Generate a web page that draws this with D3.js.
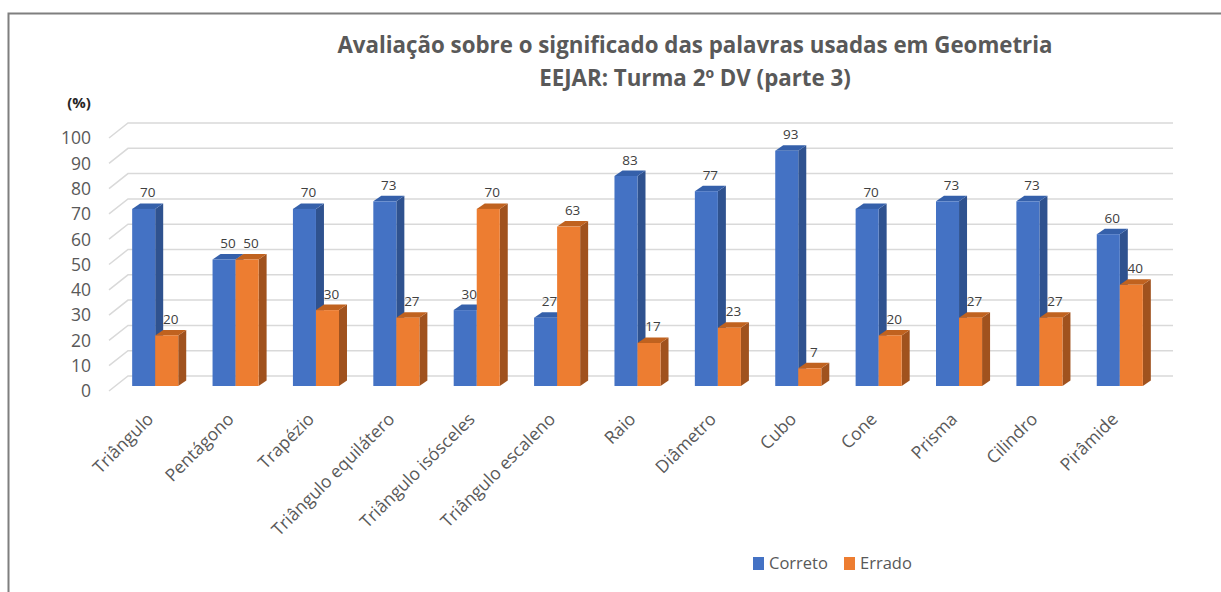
<!DOCTYPE html>
<html>
<head>
<meta charset="utf-8">
<title>Avaliação Geometria</title>
<script src="https://cdn.jsdelivr.net/npm/d3@7"></script>
<style>
  body { margin: 0; background: #fff; }
  svg text { font-family: "Open Sans", sans-serif; }
</style>
</head>
<body>
<svg id="chart" width="1221" height="592"></svg>
<script>
// data
var categories = ["Triângulo", "Pentágono", "Trapézio", "Triângulo equilátero", "Triângulo isósceles",
  "Triângulo escaleno", "Raio", "Diâmetro", "Cubo", "Cone", "Prisma", "Cilindro", "Pirâmide"];
var correto = [70, 50, 70, 73, 30, 27, 83, 77, 93, 70, 73, 73, 60];
var errado  = [20, 50, 30, 27, 70, 63, 17, 23, 7, 20, 27, 27, 40];
var seriesNames = ["Correto", "Errado"];
var yTicks = [0, 10, 20, 30, 40, 50, 60, 70, 80, 90, 100];

var colors = {
  Correto: { front: "#4472C4", side: "#2F528F", top: "#3560AA" },
  Errado:  { front: "#ED7D31", side: "#A0521E", top: "#C0621F" }
};

var svg = d3.select("#chart");

// frame (only top and left edges show)
svg.append("rect")
  .attr("x", 8.5).attr("y", 13.5)
  .attr("width", 1300).attr("height", 700)
  .attr("fill", "none").attr("stroke", "#7f7f7f").attr("stroke-width", 2);

// bar plane
var x0 = d3.scaleBand().domain(categories).range([115, 1160]).paddingInner(0.427).paddingOuter(0.2135);
var x1 = d3.scaleBand().domain(seriesNames).range([0, x0.bandwidth()]);
var y = d3.scaleLinear().domain([0, 100]).range([386, 133]);

// depth offsets
var back = { dx: 13, dy: -10 }, front = { dx: -6, dy: 5 };
var bar = { dx: 8, dy: -5.5 };

// gridlines: back wall + left diagonal
var grid = svg.append("g");
yTicks.forEach(function(t) {
  var yy = y(t);
  grid.append("polyline")
    .attr("points", [[x0.range()[0] + front.dx, yy + front.dy],
                     [x0.range()[0] + back.dx, yy + back.dy],
                     [x0.range()[1] + back.dx, yy + back.dy]].join(" "))
    .attr("fill", "none").attr("stroke", "#d9d9d9").attr("stroke-width", 1.5);
});

// y tick labels
svg.append("g").selectAll("text")
  .data(yTicks).enter().append("text")
  .attr("x", 91)
  .attr("y", function(d) { return y(d) + front.dy; })
  .attr("dy", "0.36em")
  .attr("text-anchor", "end")
  .style("font-size", "17.5px")
  .style("fill", "#595959")
  .text(function(d) { return d; });

// bars
var rows = categories.map(function(c, i) {
  return { cat: c, values: [{ s: "Correto", v: correto[i] }, { s: "Errado", v: errado[i] }] };
});

var groups = svg.append("g").selectAll("g")
  .data(rows).enter().append("g")
  .attr("transform", function(d) { return "translate(" + x0(d.cat) + ",0)"; });

groups.each(function(d) {
  var g = d3.select(this);
  d.values.forEach(function(b) {
    var xl = x1(b.s), xr = xl + x1.bandwidth(), yt = y(b.v), yb = y(0);
    var c = colors[b.s];
    g.append("polygon")
      .attr("points", [[xr, yt], [xr + bar.dx, yt + bar.dy], [xr + bar.dx, yb + bar.dy], [xr, yb]].join(" "))
      .attr("fill", c.side);
    g.append("polygon")
      .attr("points", [[xl, yt], [xl + bar.dx, yt + bar.dy], [xr + bar.dx, yt + bar.dy], [xr, yt]].join(" "))
      .attr("fill", c.top);
    g.append("rect")
      .attr("x", xl).attr("y", yt)
      .attr("width", x1.bandwidth()).attr("height", yb - yt)
      .attr("fill", c.front);
  });
  d.values.forEach(function(b) {
    g.append("text")
      .attr("x", x1(b.s) + x1.bandwidth() / 2 + bar.dx / 2)
      .attr("y", y(b.v) + bar.dy - 6)
      .attr("text-anchor", "middle")
      .style("font-size", "13.5px")
      .style("fill", "#404040")
      .text(b.v);
  });
});

// category labels
svg.append("g").selectAll("text")
  .data(categories).enter().append("text")
  .attr("transform", function(d) {
    return "translate(" + (x0(d) + x0.bandwidth() / 2 - 10) + ",411) rotate(-45)";
  })
  .attr("dy", "0.75em")
  .attr("text-anchor", "end")
  .style("font-size", "17.5px")
  .style("fill", "#595959")
  .text(function(d) { return d; });

// title
svg.append("text")
  .attr("x", 695).attr("y", 53)
  .attr("text-anchor", "middle")
  .style("font-size", "22.3px").style("font-weight", "bold").style("fill", "#595959")
  .text("Avaliação sobre o significado das palavras usadas em Geometria");
svg.append("text")
  .attr("x", 695).attr("y", 86)
  .attr("text-anchor", "middle")
  .style("font-size", "22.3px").style("font-weight", "bold").style("fill", "#595959")
  .text("EEJAR: Turma 2º DV (parte 3)");

// unit label
svg.append("text")
  .attr("x", 79).attr("y", 108)
  .attr("text-anchor", "middle")
  .style("font-size", "15px").style("font-weight", "bold").style("fill", "#262626")
  .text("(%)");

// legend
var legend = svg.append("g").selectAll("g")
  .data(seriesNames).enter().append("g")
  .attr("transform", function(d, i) { return "translate(" + (753 + i * 91) + ",557)"; });
legend.append("rect")
  .attr("width", 11).attr("height", 13)
  .attr("fill", function(d) { return colors[d].front; });
legend.append("text")
  .attr("x", 16).attr("y", 6.5).attr("dy", "0.36em")
  .style("font-size", "16.5px").style("fill", "#595959")
  .text(function(d) { return d; });
</script>
</body>
</html>
